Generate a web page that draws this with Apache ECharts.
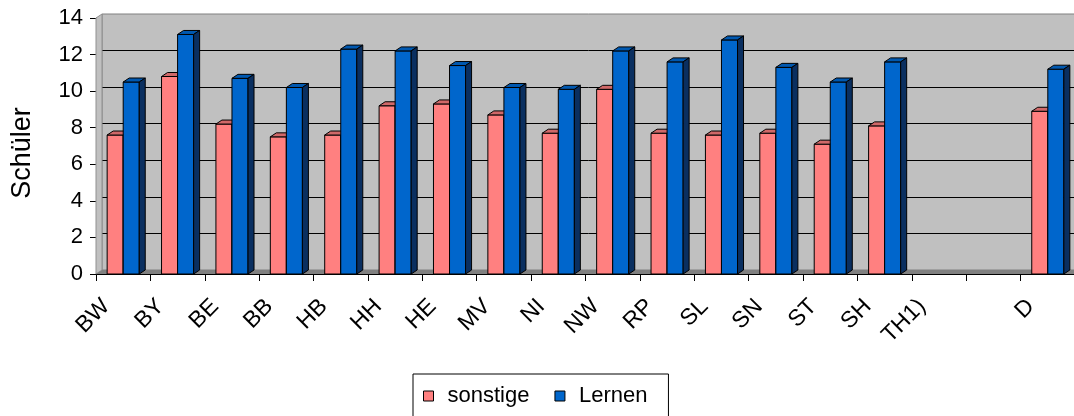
<!DOCTYPE html>
<html>
<head>
<meta charset="utf-8">
<script src="https://cdn.jsdelivr.net/npm/echarts@6.0.0/dist/echarts.min.js"></script>
<style>
  * { margin: 0; padding: 0; }
  body { background: #fff; }
</style>
</head>
<body>
<!-- container for the chart -->
<div id="main" style="width: 1074px;height: 416px;"></div>
<script>
var categories = ['BW', 'BY', 'BE', 'BB', 'HB', 'HH', 'HE', 'MV', 'NI', 'NW', 'RP', 'SL', 'SN', 'ST', 'SH', 'TH1)', '', 'D'];
var sonstige = [7.6, 10.8, 8.2, 7.5, 7.6, 9.2, 9.3, 8.7, 7.7, 10.1, 7.7, 7.6, 7.7, 7.1, 8.1, null, null, 8.9];
var lernen = [10.5, 13.1, 10.7, 10.2, 12.3, 12.2, 11.4, 10.2, 10.1, 12.2, 11.6, 12.8, 11.3, 10.5, 11.6, null, null, 11.2];
var yTicks = [0, 2, 4, 6, 8, 10, 12, 14];

var font = '"Liberation Sans", Arial, sans-serif';
var depthX = 6, depthY = 4;

// excel-like 3d column: front face, top and right side
function bar3d(offset, front, topColor, side) {
    return function (params, api) {
        var v = api.value(1);
        if (v == null || isNaN(v)) return;
        var base = api.coord([api.value(0), 0]);
        var top = api.coord([api.value(0), v]);
        var bw = api.size([1, 0])[0] * 0.295;
        var x0 = base[0] + offset * bw;
        var x1 = x0 + bw;
        var line = { stroke: '#000', lineWidth: 1 };
        return {
            type: 'group',
            children: [
                { type: 'rect', shape: { x: x0, y: top[1], width: bw, height: base[1] - top[1] },
                  style: Object.assign({ fill: front }, line) },
                { type: 'polygon', shape: { points: [[x0, top[1]], [x1, top[1]], [x1 + depthX, top[1] - depthY], [x0 + depthX, top[1] - depthY]] },
                  style: Object.assign({ fill: topColor }, line) },
                { type: 'polygon', shape: { points: [[x1, top[1]], [x1 + depthX, top[1] - depthY], [x1 + depthX, base[1] - depthY], [x1, base[1]]] },
                  style: Object.assign({ fill: side }, line) }
            ]
        };
    };
}

var chart = echarts.init(document.getElementById('main'));
chart.setOption({
    animation: false,
    textStyle: { fontFamily: font, color: '#000' },
    graphic: [
        // side wall + floor
        { type: 'polygon', z: 1, shape: { points: [[96, 18], [102, 14], [102, 270], [96, 274]] },
          style: { fill: '#c0c0c0', stroke: '#909090', lineWidth: 1 } },
        { type: 'polygon', z: 1, shape: { points: [[96, 274], [102, 270], [1081, 270], [1075, 274]] },
          style: { fill: '#808080' } }
    ],
    legend: {
        left: 413,
        top: 374,
        padding: [11, 21, 14, 10],
        borderColor: '#000',
        borderWidth: 1,
        icon: 'rect',
        itemWidth: 10,
        itemHeight: 10,
        itemGap: 25,
        itemStyle: { borderColor: '#000', borderWidth: 1 },
        formatter: function (name) { return '{t|' + name + '}'; },
        textStyle: {
            fontFamily: font, fontSize: 22, color: '#000',
            rich: { t: { fontFamily: font, fontSize: 22, color: '#000', padding: [0, 0, 0, 9], lineHeight: 20 } }
        },
        data: [
            { name: 'sonstige', itemStyle: { color: '#ff8080' } },
            { name: 'Lernen', itemStyle: { color: '#0066cc' } }
        ]
    },
    grid: [
        { left: 96, top: 18, right: -1, bottom: 142, show: false, outerBoundsMode: 'none' },
        // back wall
        { left: 102, top: 14, right: -7, bottom: 146, show: true, backgroundColor: '#c0c0c0', borderColor: '#808080', borderWidth: 1, outerBoundsMode: 'none' }
    ],
    xAxis: [
        {
            type: 'category', gridIndex: 0, data: categories,
            axisLine: { lineStyle: { color: '#000', width: 1 } },
            axisTick: { show: true, interval: 0, length: 7, lineStyle: { color: '#000' } },
            axisLabel: { interval: 0, rotate: 45, margin: 12, fontSize: 23, fontFamily: font, color: '#000', padding: [0, 24, 0, 0] },
            splitLine: { show: false }
        },
        {
            type: 'category', gridIndex: 1, data: categories, show: false
        }
    ],
    yAxis: [
        {
            type: 'value', gridIndex: 0, min: 0, max: 14, interval: 2,
            name: 'Schüler', nameLocation: 'middle', nameRotate: 90, nameGap: 60,
            nameTextStyle: { fontSize: 27, fontFamily: font, color: '#000', padding: [0, 14, 0, 0] },
            axisLine: { show: true, lineStyle: { color: '#000', width: 1 } },
            axisTick: { show: true, length: 6, lineStyle: { color: '#000' } },
            axisLabel: { margin: 13, fontSize: 22, fontFamily: font, color: '#000',
                formatter: function (v) { return yTicks.indexOf(v) >= 0 ? String(v) : ''; } },
            splitLine: { show: false }
        },
        {
            type: 'value', gridIndex: 1, min: 0, max: 14, interval: 2,
            axisLine: { show: false }, axisTick: { show: false }, axisLabel: { show: false },
            splitLine: { show: true, showMaxLine: false, showMinLine: false, lineStyle: { color: '#000', width: 1 } }
        }
    ],
    series: [
        {
            name: 'sonstige', type: 'custom', xAxisIndex: 0, yAxisIndex: 0, z: 3,
            itemStyle: { color: '#ff8080' },
            renderItem: bar3d(-1, '#ff8080', '#d06868', '#a04848'),
            encode: { x: 0, y: 1 },
            data: sonstige.map(function (v, i) { return [i, v]; })
        },
        {
            name: 'Lernen', type: 'custom', xAxisIndex: 0, yAxisIndex: 0, z: 4,
            itemStyle: { color: '#0066cc' },
            renderItem: bar3d(0, '#0066cc', '#0058b0', '#0a2f60'),
            encode: { x: 0, y: 1 },
            data: lernen.map(function (v, i) { return [i, v]; })
        }
    ]
});
</script>
</body>
</html>
